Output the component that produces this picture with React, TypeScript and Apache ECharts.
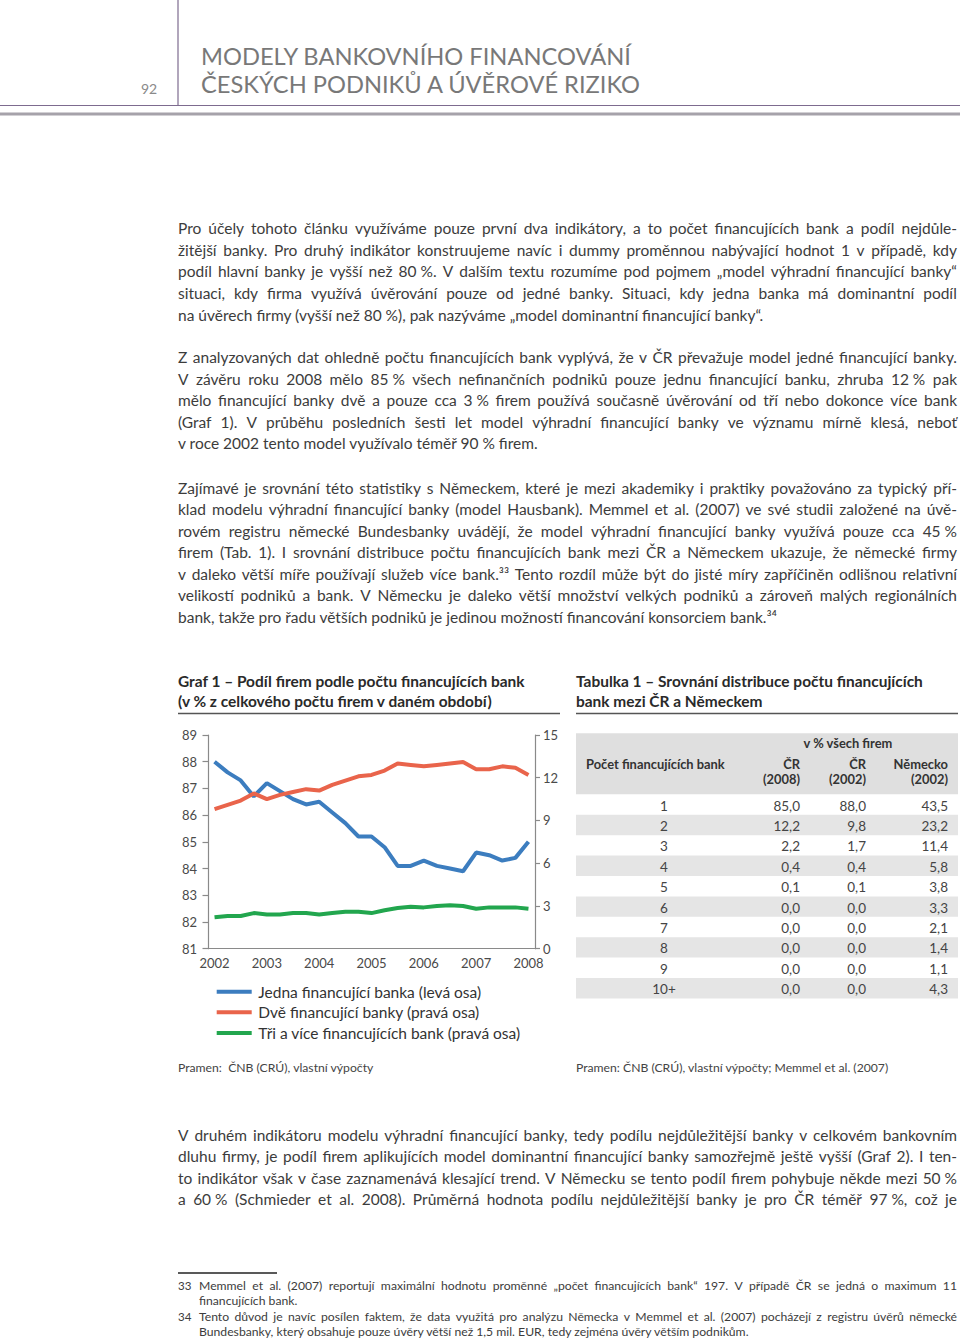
import React, { useEffect, useRef } from "react";
import * as echarts from "echarts";

// ---------- DATA ----------
const quarters = [
  "2002 Q1", "2002 Q2", "2002 Q3", "2002 Q4",
  "2003 Q1", "2003 Q2", "2003 Q3", "2003 Q4",
  "2004 Q1", "2004 Q2", "2004 Q3", "2004 Q4",
  "2005 Q1", "2005 Q2", "2005 Q3", "2005 Q4",
  "2006 Q1", "2006 Q2", "2006 Q3", "2006 Q4",
  "2007 Q1", "2007 Q2", "2007 Q3", "2007 Q4",
  "2008 Q1",
];
const oneBank = [88.0, 87.6, 87.3, 86.7, 87.2, 86.9, 86.6, 86.4, 86.5, 86.1, 85.7, 85.2, 85.2, 84.8, 84.1, 84.1, 84.3, 84.1, 84.0, 83.9, 84.6, 84.5, 84.3, 84.4, 85.0];
const twoBanks = [9.8, 10.1, 10.4, 10.9, 10.5, 10.8, 11.0, 11.2, 11.1, 11.5, 11.8, 12.1, 12.2, 12.5, 13.0, 12.9, 12.8, 12.9, 13.0, 13.1, 12.6, 12.6, 12.8, 12.7, 12.2];
const threePlusBanks = [2.2, 2.3, 2.3, 2.5, 2.4, 2.4, 2.5, 2.5, 2.4, 2.5, 2.6, 2.6, 2.5, 2.7, 2.85, 2.95, 2.9, 3.0, 3.05, 3.0, 2.8, 2.9, 2.9, 2.9, 2.8];
const seriesNames = [
  "Jedna financující banka (levá osa)",
  "Dvě financující banky (pravá osa)",
  "Tři a více financujících bank (pravá osa)",
];

const tableRowLabels = ["1", "2", "3", "4", "5", "6", "7", "8", "9", "10+"];
const cz2008 = [85.0, 12.2, 2.2, 0.4, 0.1, 0.0, 0.0, 0.0, 0.0, 0.0];
const cz2002 = [88.0, 9.8, 1.7, 0.4, 0.1, 0.0, 0.0, 0.0, 0.0, 0.0];
const de2002 = [43.5, 23.2, 11.4, 5.8, 3.8, 3.3, 2.1, 1.4, 1.1, 4.3];
const tableGroupHeader = "v % všech firem";
const tableFirstHeader = "Počet financujících bank";
const tableColHeaders = [["ČR", "(2008)"], ["ČR", "(2002)"], ["Německo", "(2002)"]];

const pageNumber = "92";
const headerTitle = ["MODELY BANKOVNÍHO FINANCOVÁNÍ", "ČESKÝCH PODNIKŮ A ÚVĚROVÉ RIZIKO"];
const chartTitle = ["Graf 1 – Podíl firem podle počtu financujících bank", "(v % z celkového počtu firem v daném období)"];
const tableTitle = ["Tabulka 1 – Srovnání distribuce počtu financujících", "bank mezi ČR a Německem"];
const sourceChart = "Pramen:  ČNB (CRÚ), vlastní výpočty";
const sourceTable = "Pramen: ČNB (CRÚ), vlastní výpočty; Memmel et al. (2007)";

const para1 = [
  "Pro účely tohoto článku využíváme pouze první dva indikátory, a to počet financujících bank a podíl nejdůle-",
  "žitější banky. Pro druhý indikátor konstruujeme navíc i dummy proměnnou nabývající hodnot 1 v případě, kdy",
  "podíl hlavní banky je vyšší než 80\u00a0%. V dalším textu rozumíme pod pojmem „model výhradní financující banky“",
  "situaci, kdy firma využívá úvěrování pouze od jedné banky. Situaci, kdy jedna banka má dominantní podíl",
  "na úvěrech firmy (vyšší než 80\u00a0%), pak nazýváme „model dominantní financující banky“.",
];
const para2 = [
  "Z analyzovaných dat ohledně počtu financujících bank vyplývá, že v ČR převažuje model jedné financující banky.",
  "V závěru roku 2008 mělo 85\u00a0% všech nefinančních podniků pouze jednu financující banku, zhruba 12\u00a0% pak",
  "mělo financující banky dvě a pouze cca 3\u00a0% firem používá současně úvěrování od tří nebo dokonce více bank",
  "(Graf 1). V průběhu posledních šesti let model výhradní financující banky ve významu mírně klesá, neboť",
  "v roce 2002 tento model využívalo téměř 90\u00a0% firem.",
];
const para3 = [
  "Zajímavé je srovnání této statistiky s Německem, které je mezi akademiky i praktiky považováno za typický pří-",
  "klad modelu výhradní financující banky (model Hausbank). Memmel et al. (2007) ve své studii založené na úvě-",
  "rovém registru německé Bundesbanky uvádějí, že model výhradní financující banky využívá pouze cca 45\u00a0%",
  "firem (Tab. 1). I srovnání distribuce počtu financujících bank mezi ČR a Německem ukazuje, že německé firmy",
  "v daleko větší míře používají služeb více bank.³³ Tento rozdíl může být do jisté míry zapříčiněn odlišnou relativní",
  "velikostí podniků a bank. V Německu je daleko větší množství velkých podniků a zároveň malých regionálních",
  "bank, takže pro řadu větších podniků je jedinou možností financování konsorciem bank.³⁴",
];
const para4 = [
  "V druhém indikátoru modelu výhradní financující banky, tedy podílu nejdůležitější banky v celkovém bankovním",
  "dluhu firmy, je podíl firem aplikujících model dominantní financující banky samozřejmě ještě vyšší (Graf 2). I ten-",
  "to indikátor však v čase zaznamenává klesající trend. V Německu se tento podíl firem pohybuje někde mezi 50\u00a0%",
  "a 60\u00a0% (Schmieder et al. 2008). Průměrná hodnota podílu nejdůležitější banky je pro ČR téměř 97\u00a0%, což je",
];
const footnoteNumbers = ["33", "34"];
const footnotes = [
  [
    "Memmel et al. (2007) reportují maximální hodnotu proměnné „počet financujících bank“ 197. V případě ČR se jedná o maximum 11",
    "financujících bank.",
  ],
  [
    "Tento důvod je navíc posílen faktem, že data využitá pro analýzu Německa v Memmel et al. (2007) pocházejí z registru úvěrů německé",
    "Bundesbanky, který obsahuje pouze úvěry větší než 1,5 mil. EUR, tedy zejména úvěry větším podnikům.",
  ],
];

// ---------- STYLE ----------
const FONT = "Lato, 'Open Sans', 'DejaVu Sans', sans-serif";
const TEXT = "#3c3c3c";
const BLUE = "#3c7dbf";
const RED = "#e9644b";
const GREEN = "#22a64e";
const AXIS = "#8a8a8a";

const fmt = (v: number) => v.toFixed(1).replace(".", ",");

export default function App() {
  const ref = useRef<HTMLDivElement>(null);

  useEffect(() => {
    const el = ref.current;
    if (!el) return;
    const chart = echarts.init(el, null, { renderer: "svg" });

    const cv = document.createElement("canvas");
    const ctx = cv.getContext("2d")!;
    const mw = (t: string, size: number, weight = "normal") => {
      ctx.font = `${weight} ${size}px ${FONT}`;
      return ctx.measureText(t).width;
    };
    const fit = (t: string, w: number, weight = "normal") => (20 * w) / mw(t, 20, weight);

    const els: any[] = [];
    const txt = (text: string, x: number, y: number, size: number, o: any = {}) =>
      els.push({
        type: "text",
        x,
        y,
        silent: true,
        style: {
          text,
          fill: o.fill || TEXT,
          fontSize: size,
          fontFamily: FONT,
          fontWeight: o.weight || "normal",
          textAlign: o.align || "left",
          textVerticalAlign: "middle",
        },
      });
    const ln = (x1: number, y1: number, x2: number, y2: number, stroke: string, w: number) =>
      els.push({ type: "line", silent: true, shape: { x1, y1, x2, y2 }, style: { stroke, lineWidth: w } });
    const rc = (x: number, y: number, w: number, h: number, fill: string) =>
      els.push({ type: "rect", silent: true, shape: { x, y, width: w, height: h }, style: { fill } });

    const justified = (text: string, x: number, y: number, width: number, size: number, justify: boolean, fill = TEXT) => {
      if (!justify) {
        txt(text, x, y, size, { fill });
        return;
      }
      const words = text.split(" ");
      let s = size;
      let widths = words.map((w) => mw(w, s));
      let sum = widths.reduce((a, b) => a + b, 0);
      while (sum + (words.length - 1) * mw(" ", s) * 0.75 > width && s > 8) {
        s -= 0.1;
        widths = words.map((w) => mw(w, s));
        sum = widths.reduce((a, b) => a + b, 0);
      }
      const gap = (width - sum) / (words.length - 1);
      let cx = x;
      words.forEach((w, i) => {
        txt(w, cx, y, s, { fill });
        cx += widths[i] + gap;
      });
    };

    // header
    ln(178, 0, 178, 105.5, "#7d6b8f", 1.2);
    ln(0, 105.5, 960, 105.5, "#7d6b8f", 1.2);
    ln(0, 114, 960, 114, "#a6a2aa", 3);
    txt(pageNumber, 149, 88, 14, { fill: "#8a8a8a", align: "center" });
    const hs = fit(headerTitle[0], 431);
    txt(headerTitle[0], 201, 55.5, hs, { fill: "#787878" });
    txt(headerTitle[1], 201, 84, hs, { fill: "#787878" });

    // body paragraphs
    const bodySize = Math.min(15.5, fit(para1[4], 595));
    const step = 21.55;
    const BX = 178;
    const BW = 779;
    para1.forEach((l, i) => justified(l, BX, 228.3 + i * step, BW, bodySize, i < para1.length - 1));
    para2.forEach((l, i) => justified(l, BX, 357.2 + i * step, BW, bodySize, i < para2.length - 1));
    para3.forEach((l, i) => justified(l, BX, 487.5 + i * step, BW, bodySize, i < para3.length - 1));
    para4.forEach((l, i) => justified(l, BX, 1134.5 + i * step, BW, bodySize, true));

    // chart / table titles
    const ts = fit(chartTitle[0], 347, "bold");
    txt(chartTitle[0], 178, 681, ts, { weight: "bold", fill: "#2a2a2a" });
    txt(chartTitle[1], 178, 701, ts, { weight: "bold", fill: "#2a2a2a" });
    ln(178, 713.5, 560, 713.5, "#555555", 1.4);
    txt(tableTitle[0], 576, 681, ts, { weight: "bold", fill: "#2a2a2a" });
    txt(tableTitle[1], 576, 701, ts, { weight: "bold", fill: "#2a2a2a" });
    ln(576, 713.5, 958, 713.5, "#555555", 1.4);

    // table
    rc(576, 733.3, 382, 60.9, "#dfdfdf");
    const rowTop = 794.4;
    const rowH = 20.4;
    tableRowLabels.forEach((_, i) => {
      if (i % 2 === 1) rc(576, rowTop + i * rowH, 382, rowH, "#e5e5e5");
    });
    const hb = Math.max(12.4, Math.min(13.5, fit(tableFirstHeader, 139, "bold")));
    txt(tableGroupHeader, 848, 743, hb, { weight: "bold", fill: "#333", align: "center" });
    txt(tableFirstHeader, 586, 764.3, hb, { weight: "bold", fill: "#333" });
    const colX = [800, 866, 948];
    tableColHeaders.forEach((h, c) => {
      txt(h[0], colX[c], 764.3, hb, { weight: "bold", fill: "#333", align: "right" });
      txt(h[1], colX[c], 779.3, hb, { weight: "bold", fill: "#333", align: "right" });
    });
    const cols = [cz2008, cz2002, de2002];
    tableRowLabels.forEach((lab, i) => {
      const y = rowTop + i * rowH + 11.2;
      txt(lab, 664, y, 13.5, { fill: "#444", align: "center" });
      cols.forEach((col, c) => txt(fmt(col[i]), colX[c], y, 13.5, { fill: "#444", align: "right" }));
    });

    // sources
    const ss = Math.max(12, fit(sourceTable, 313));
    txt(sourceChart, 178, 1067.5, ss, { fill: "#444" });
    txt(sourceTable, 576, 1067.5, ss, { fill: "#444" });

    // footnotes
    ln(178, 1273, 277, 1273, "#222", 1.5);
    const fs = Math.max(11.8, fit(footnotes[1][1], 552));
    const fy = [[1285, 1300.3], [1316, 1331.3]];
    footnotes.forEach((fn, k) => {
      txt(footnoteNumbers[k], 178, fy[k][0], fs * 0.95, { fill: TEXT });
      fn.forEach((l, j) => justified(l, 199, fy[k][j], 758, fs, j === 0));
    });

    const legendSize = Math.min(15.5, fit(seriesNames[0], 227));
    const axisLabel = { color: "#4a4a4a", fontSize: 13, fontFamily: FONT };

    chart.setOption({
      animation: false,
      textStyle: { fontFamily: FONT },
      grid: { left: 208, top: 735, width: 327, height: 213.7 },
      legend: {
        orient: "vertical",
        left: 216.7,
        top: 981.4,
        padding: 0,
        icon: "rect",
        itemWidth: 35,
        itemHeight: 4,
        itemGap: 0,
        itemStyle: { borderWidth: 0 },
        textStyle: { fontSize: legendSize, color: "#333", lineHeight: 20.6, fontFamily: FONT, padding: [0, 0, 0, 1.6] },
        data: seriesNames,
      },
      xAxis: {
        type: "category",
        data: quarters,
        boundaryGap: true,
        axisLine: { show: true, lineStyle: { color: AXIS, width: 1.2 } },
        axisTick: { show: false },
        splitLine: { show: false },
        axisLabel: { ...axisLabel, interval: 3, margin: 8, formatter: (v: string) => v.slice(0, 4) },
      },
      yAxis: [
        {
          type: "value",
          position: "left",
          min: 81,
          max: 89,
          interval: 1,
          axisLine: { show: true, lineStyle: { color: AXIS, width: 1.2 } },
          axisTick: { show: true, length: 5.5, lineStyle: { color: AXIS, width: 1.2 } },
          splitLine: { show: false },
          axisLabel: { ...axisLabel, margin: 11 },
        },
        {
          type: "value",
          position: "right",
          min: 0,
          max: 15,
          interval: 3,
          axisLine: { show: true, lineStyle: { color: AXIS, width: 1.2 } },
          axisTick: { show: true, length: 5, lineStyle: { color: AXIS, width: 1.2 } },
          splitLine: { show: false },
          axisLabel: { ...axisLabel, margin: 8 },
        },
      ],
      series: [
        { name: seriesNames[0], type: "line", yAxisIndex: 0, data: oneBank, showSymbol: false, lineStyle: { width: 4, color: BLUE }, itemStyle: { color: BLUE } },
        { name: seriesNames[1], type: "line", yAxisIndex: 1, data: twoBanks, showSymbol: false, lineStyle: { width: 4, color: RED }, itemStyle: { color: RED } },
        { name: seriesNames[2], type: "line", yAxisIndex: 1, data: threePlusBanks, showSymbol: false, lineStyle: { width: 4, color: GREEN }, itemStyle: { color: GREEN } },
      ],
      graphic: { elements: els },
    });

    return () => chart.dispose();
  }, []);

  return (
    <div
      ref={ref}
      style={{ position: "absolute", left: 0, top: 0, width: 960, height: 1340, background: "#ffffff" }}
    />
  );
}
